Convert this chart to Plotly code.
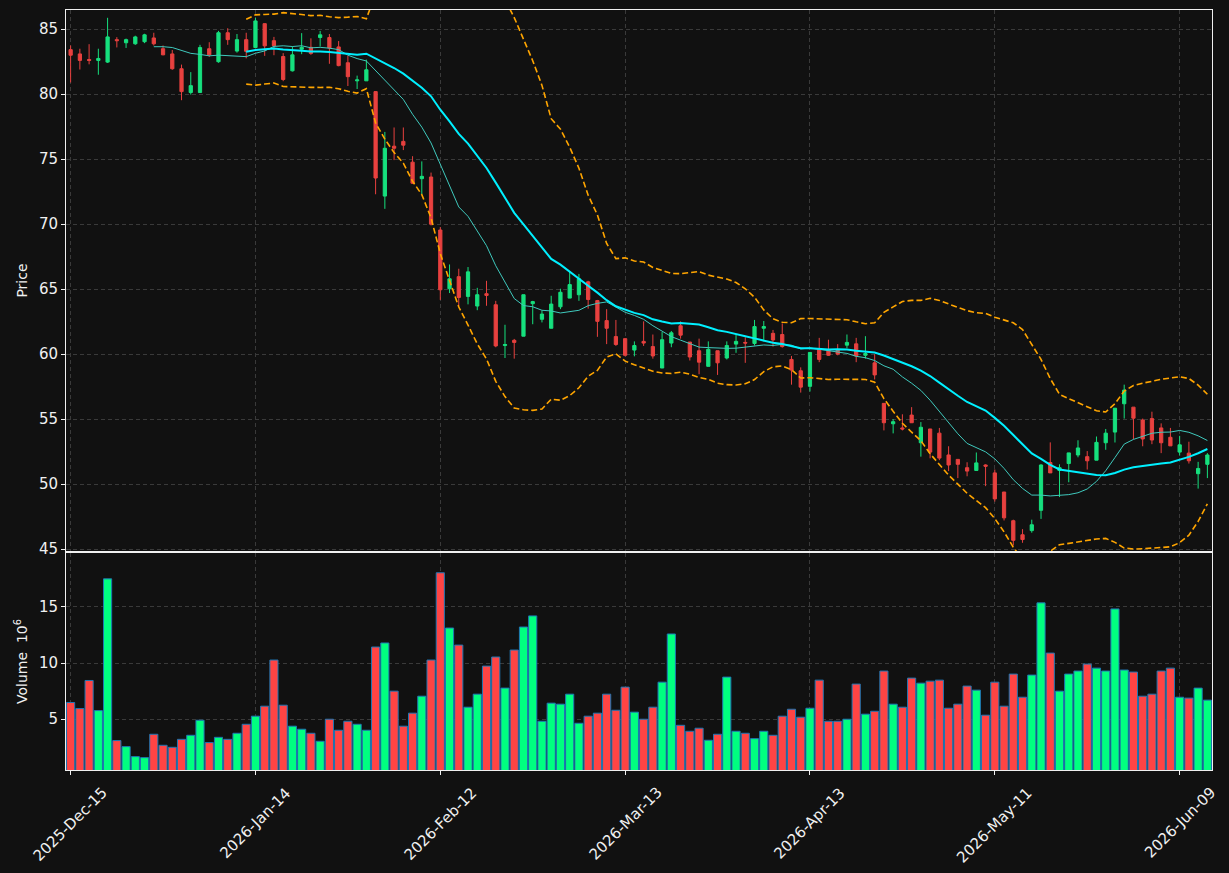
import pandas as pd
import plotly.graph_objects as go

# ---------------- data ----------------
holidays = ['2025-12-25', '2026-01-01', '2026-01-19', '2026-02-16', '2026-04-03', '2026-05-25']
dates = pd.bdate_range('2025-12-15', periods=124, freq='C', holidays=holidays)
date_labels = [d.strftime('%Y-%b-%d') for d in dates]

tick_labels = ['2025-Dec-15', '2026-Jan-14', '2026-Feb-12', '2026-Mar-13',
               '2026-Apr-13', '2026-May-11', '2026-Jun-09']

open_ = [83.43, 83.1, 82.67, 82.6, 82.47, 84.2, 83.96, 83.88, 84.04, 84.33,
         83.5, 83.1, 81.96, 80.13, 80.13, 83.5, 82.5, 84.73, 83.32, 84.2,
         83.59, 85.43, 84.12, 82.9, 81.8, 83.46, 83.61, 84.36, 84.36, 83.64,
         82.42, 81.03, 81.03, 80.2, 72.16, 76.0, 76.37, 74.77, 73.5, 73.63,
         69.55, 65.03, 65.96, 64.44, 63.7, 64.65, 63.8, 60.66, 61.06, 61.38,
         63.88, 62.68, 61.99, 63.64, 64.31, 64.57, 65.56, 64.12, 62.58, 61.35,
         61.19, 60.31, 60.98, 60.58, 58.93, 60.85, 62.18, 60.93, 60.26, 59.06,
         60.26, 59.7, 60.77, 60.9, 60.82, 61.99, 61.6, 61.51, 59.59, 58.72,
         57.52, 60.37, 60.31, 60.31, 60.69, 60.79, 59.91, 59.33, 56.21, 54.64,
         54.32, 55.31, 53.18, 54.24, 53.92, 52.24, 51.9, 51.26, 51.05, 51.47,
         50.86, 49.39, 47.18, 46.1, 46.42, 47.98, 51.66, 51.05, 51.58, 52.24,
         52.11, 51.84, 53.18, 54.0, 56.18, 55.92, 54.93, 55.04, 54.32, 53.6,
         52.46, 52.38, 50.8, 51.52]
high = [83.75, 83.5, 83.85, 83.5, 85.88, 84.39, 84.28, 84.5, 84.65, 84.73,
        83.75, 83.4, 82.28, 81.7, 83.8, 84.0, 84.87, 85.08, 84.63, 84.73,
        85.88, 85.43, 84.41, 83.16, 83.67, 84.7, 84.3, 84.87, 84.63, 84.09,
        82.95, 81.43, 82.66, 80.2, 77.1, 77.44, 77.44, 75.23, 74.83, 73.97,
        69.77, 66.9, 66.57, 66.7, 65.1, 65.64, 64.1, 62.26, 61.17, 64.57,
        64.1, 63.35, 64.49, 65.03, 66.38, 66.17, 65.64, 64.17, 63.46, 62.63,
        61.19, 60.98, 62.52, 61.51, 61.7, 61.78, 62.52, 60.93, 61.19, 60.98,
        60.26, 60.98, 61.51, 61.3, 62.63, 62.55, 61.86, 62.36, 59.86, 58.98,
        60.13, 61.25, 61.11, 60.77, 61.51, 61.25, 61.38, 59.99, 56.21, 55.0,
        55.37, 55.92, 54.77, 54.24, 54.32, 52.91, 51.9, 51.68, 52.43, 51.52,
        51.12, 49.39, 47.26, 46.53, 47.26, 51.52, 53.21, 51.52, 52.4, 53.37,
        52.54, 53.66, 54.24, 55.84, 57.65, 55.92, 55.04, 55.57, 54.67, 54.32,
        53.71, 53.26, 51.71, 52.38]
low = [80.9, 81.9, 82.3, 81.5, 82.4, 83.6, 83.56, 83.8, 83.93, 83.75,
       83.0, 81.88, 79.54, 79.97, 80.13, 82.87, 82.42, 83.8, 83.2, 82.76,
       83.59, 82.95, 83.0, 81.0, 81.75, 83.08, 83.03, 83.67, 82.34, 82.15,
       80.63, 80.4, 81.03, 72.3, 71.18, 74.93, 75.7, 73.1, 72.3, 69.9,
       64.17, 64.7, 63.64, 63.83, 63.38, 63.72, 60.53, 59.7, 59.65, 61.38,
       62.3, 62.44, 61.99, 63.46, 64.31, 64.1, 63.5, 61.33, 60.77, 60.63,
       59.83, 59.83, 60.63, 59.65, 58.93, 60.53, 61.19, 59.51, 58.45, 59.06,
       58.4, 59.59, 60.1, 59.33, 60.66, 60.98, 60.58, 60.5, 57.65, 57.04,
       57.12, 59.38, 59.86, 59.91, 60.45, 59.38, 59.65, 58.05, 54.13, 53.9,
       54.13, 54.72, 52.11, 51.98, 51.84, 51.0, 50.46, 50.6, 51.05, 49.84,
       48.65, 47.2, 45.27, 45.48, 46.26, 47.32, 50.86, 49.0, 50.14, 52.06,
       51.12, 51.84, 52.64, 53.2, 55.04, 53.45, 52.91, 53.07, 52.38, 52.94,
       52.19, 51.58, 49.65, 50.46]
close = [83.0, 82.6, 82.6, 82.75, 84.41, 84.12, 84.2, 84.41, 84.57, 83.88,
         83.03, 81.96, 80.2, 80.66, 83.59, 83.03, 84.73, 84.2, 84.2, 83.3,
         85.64, 83.72, 83.72, 81.13, 83.03, 83.61, 83.14, 84.57, 83.56, 82.2,
         81.35, 81.1, 81.88, 73.55, 75.84, 75.84, 76.08, 73.15, 73.68, 70.0,
         64.95, 65.8, 64.36, 66.33, 64.57, 64.52, 60.63, 60.74, 60.9, 64.57,
         64.04, 63.08, 63.85, 64.76, 65.35, 65.8, 64.2, 62.52, 61.99, 60.74,
         59.91, 60.66, 60.85, 59.86, 61.11, 61.64, 61.46, 59.78, 59.38, 60.37,
         59.33, 60.66, 60.98, 60.85, 62.12, 62.12, 61.09, 60.58, 58.77, 57.46,
         60.13, 59.59, 59.91, 60.0, 60.9, 59.86, 60.05, 58.4, 54.72, 54.8,
         54.24, 54.72, 54.37, 52.46, 52.0, 51.47, 51.52, 51.0, 51.63, 51.37,
         48.86, 47.4, 45.67, 45.73, 46.87, 51.47, 50.86, 51.26, 52.4, 52.78,
         51.79, 53.21, 53.92, 55.84, 57.23, 55.07, 53.47, 53.39, 53.18, 52.94,
         53.02, 51.79, 51.2, 52.24]
volume_millions = [6.49, 5.95, 8.45, 5.77, 17.5, 3.10, 2.56, 1.67, 1.58, 3.66,
                   2.68, 2.50, 3.21, 3.57, 4.91, 2.92, 3.39, 3.21, 3.75, 4.55,
                   5.27, 6.16, 10.27, 6.25, 4.38, 4.11, 3.75, 3.04, 5.00, 4.02,
                   4.82, 4.55, 4.02, 11.43, 11.79, 7.50, 4.38, 5.54, 7.05, 10.27,
                   18.04, 13.12, 11.60, 6.07, 7.23, 9.73, 10.54, 7.77, 11.16, 13.21,
                   14.20, 4.82, 6.43, 6.34, 7.23, 4.64, 5.27, 5.54, 7.23, 5.80,
                   7.86, 5.63, 5.00, 6.07, 8.30, 12.59, 4.46, 3.93, 4.20, 3.13,
                   3.66, 8.75, 3.93, 3.75, 3.27, 3.93, 3.57, 5.27, 5.89, 5.18,
                   5.98, 8.48, 4.82, 4.82, 5.00, 8.13, 5.45, 5.71, 9.29, 6.34,
                   6.07, 8.66, 8.21, 8.39, 8.48, 5.98, 6.34, 7.95, 7.59, 5.36,
                   8.30, 6.16, 9.02, 6.96, 8.93, 15.36, 10.89, 7.50, 9.02, 9.29,
                   9.91, 9.55, 9.29, 14.82, 9.38, 9.20, 7.05, 7.23, 9.29, 9.55,
                   6.96, 6.88, 7.77, 6.70]

# ---------------- indicators ----------------
close_s = pd.Series(close)
ma10 = close_s.rolling(10).mean()
ma20 = close_s.rolling(20).mean()
sd20 = close_s.rolling(20).std()
bb_up = ma20 + 2 * sd20
bb_lo = ma20 - 2 * sd20

# ---------------- styles ----------------
BG = '#111111'
UP_C, DN_C = '#16e07e', '#e8413f'
UP_V, DN_V = '#00ff80', '#ff4444'
GRID = '#3a3a3a'
FONT = 'DejaVu Sans'
TXT = '#f0f0f0'
vol_colors = [UP_V if c >= o else DN_V for o, c in zip(open_, close)]

fig = go.Figure()
fig.add_trace(go.Candlestick(
    x=date_labels, open=open_, high=high, low=low, close=close,
    increasing=dict(line=dict(color=UP_C, width=1), fillcolor=UP_C),
    decreasing=dict(line=dict(color=DN_C, width=1), fillcolor=DN_C),
    whiskerwidth=0, xaxis='x', yaxis='y', showlegend=False, hoverinfo='skip'))
fig.add_trace(go.Scatter(x=date_labels, y=ma10, mode='lines',
                         line=dict(color='#3fc9bd', width=1),
                         xaxis='x', yaxis='y', showlegend=False, hoverinfo='skip'))
fig.add_trace(go.Scatter(x=date_labels, y=ma20, mode='lines',
                         line=dict(color='#00f0ff', width=2),
                         xaxis='x', yaxis='y', showlegend=False, hoverinfo='skip'))
for band in (bb_up, bb_lo):
    fig.add_trace(go.Scatter(x=date_labels, y=band, mode='lines',
                             line=dict(color='#ffa500', width=1.6, dash='6px,3px'),
                             xaxis='x', yaxis='y', showlegend=False, hoverinfo='skip'))
fig.add_trace(go.Bar(x=date_labels, y=volume_millions, width=0.88,
                     marker=dict(color=vol_colors, line=dict(color='#1f77b4', width=1)),
                     xaxis='x2', yaxis='y2', showlegend=False, hoverinfo='skip'))

# date tick labels, centred under their ticks and rotated 45 degrees
for lab in tick_labels:
    fig.add_annotation(x=lab, xref='x2', y=0, yref='paper', text=lab,
                       textangle=-45, xanchor='center', yanchor='top',
                       yshift=-11, showarrow=False,
                       font=dict(family=FONT, size=15, color=TXT))

axis_common = dict(showline=True, mirror=True, linecolor=TXT, linewidth=1,
                   showgrid=True, gridcolor=GRID, griddash='4px,3px', gridwidth=1,
                   zeroline=False, automargin=False,
                   tickcolor=TXT, ticklen=4)

fig.update_layout(
    width=1229, height=873,
    paper_bgcolor=BG, plot_bgcolor=BG,
    margin=dict(l=66, r=17, t=10, b=103),
    boxgap=0.5,
    font=dict(family=FONT, color=TXT, size=14),
    xaxis=dict(domain=[0, 1], anchor='y', type='category', range=[-0.5, 123.5],
               tickmode='array', tickvals=tick_labels, showticklabels=False, ticks='',
               rangeslider=dict(visible=False), **axis_common),
    xaxis2=dict(domain=[0, 1], anchor='y2', type='category', range=[-0.5, 123.5],
                matches='x', tickmode='array', tickvals=tick_labels,
                showticklabels=False, ticks='outside', **axis_common),
    yaxis=dict(domain=[219 / 760, 1], anchor='x', range=[44.85, 86.48],
               tickmode='array', tickvals=[45, 50, 55, 60, 65, 70, 75, 80, 85],
               ticks='outside', tickfont=dict(family=FONT, size=15, color=TXT),
               title=dict(text='Price', font=dict(family=FONT, size=14, color=TXT),
                          standoff=8), **axis_common),
    yaxis2=dict(domain=[0, 217 / 760], anchor='x2', range=[0.48, 19.8],
                tickmode='array', tickvals=[5, 10, 15], ticks='outside',
                tickfont=dict(family=FONT, size=15, color=TXT),
                title=dict(text='Volume  10<sup>6</sup>',
                           font=dict(family=FONT, size=14, color=TXT), standoff=8),
                **axis_common),
)

fig.write_html('out.html')
